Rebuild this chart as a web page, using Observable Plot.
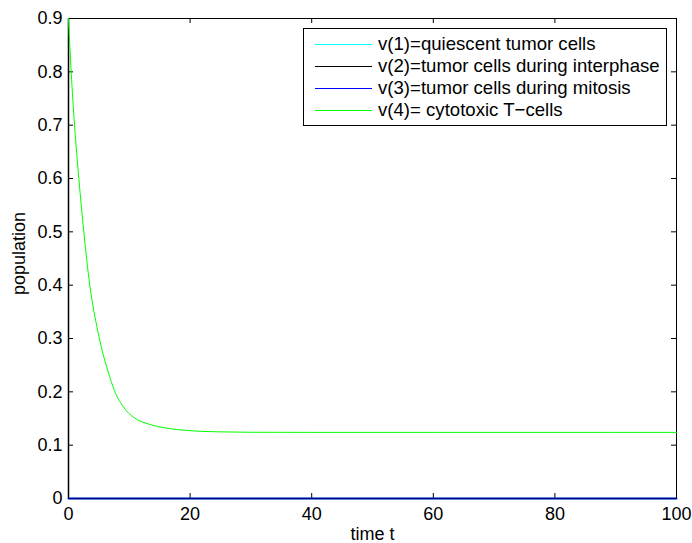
<!DOCTYPE html>
<html><head><meta charset="utf-8">
<script src="https://cdn.jsdelivr.net/npm/d3@7"></script>
<script src="https://cdn.jsdelivr.net/npm/@observablehq/plot@0.6"></script>
<style>
body{margin:0;background:#fff;}
#wrap{position:relative;width:692px;height:543px;font-family:"Liberation Sans",Arial,sans-serif;color:#000;}
#legend{position:absolute;left:303px;top:28px;width:362px;height:96px;border:1px solid #000;background:#fff;}
.row{position:absolute;left:0;height:22px;display:flex;align-items:center;font-size:18.6px;white-space:nowrap;}
.swatch{width:57px;height:0;border-top:1px solid;margin-left:11px;margin-right:6px;}
</style></head><body><div id="wrap"></div>
<script>
// time points and series values
const tZero = [0, 100];
const v1 = [0, 0];
const v2 = [0, 0];
const v3 = [0, 0];
const t4 = [0, 0.44, 0.99, 1.7, 2.52, 3.5, 4.88, 5.54, 6.47, 7.57, 9.1, 10.75, 13.2, 16.5, 19, 22, 24.7, 30, 40, 60, 80, 100];
const v4 = [0.9, 0.8, 0.7, 0.6, 0.5, 0.4, 0.311, 0.277, 0.2395, 0.202, 0.1706, 0.152, 0.1395, 0.1313, 0.128, 0.1258, 0.125, 0.1242, 0.124, 0.124, 0.124, 0.124];

const seriesNames = ["v(1)=quiescent tumor cells", "v(2)=tumor cells during interphase", "v(3)=tumor cells during mitosis", "v(4)= cytotoxic T\u2212cells"];
const seriesColors = ["#00ffff", "#000000", "#0000ff", "#00ff00"];

const xTicks = [0, 20, 40, 60, 80, 100];
const yTicks = [0, 0.1, 0.2, 0.3, 0.4, 0.5, 0.6, 0.7, 0.8, 0.9];
const yTickLabels = ["0", "0.1", "0.2", "0.3", "0.4", "0.5", "0.6", "0.7", "0.8", "0.9"];
const xDomain = [0, 100];
const yDomain = [0, 0.9];

const W = 692, H = 543, mL = 68, mR = 16, mT = 18, mB = 45;
const innerW = W - mL - mR, innerH = H - mT - mB;

const series = [
  {t: tZero, v: v1},
  {t: tZero, v: v2},
  {t: tZero, v: v3},
  {t: t4, v: v4}
].map((s, i) => ({name: seriesNames[i], color: seriesColors[i], data: s.t.map((x, j) => ({t: x, v: s.v[j]}))}));

const tick = 5;
const lineStyle = [
  {strokeWidth: 1.5},
  {strokeWidth: 1.5},
  {strokeWidth: 2, strokeOpacity: 0.6},
  {strokeWidth: 1}
];
const chart = Plot.plot({
  width: W, height: H,
  marginLeft: mL, marginRight: mR, marginTop: mT, marginBottom: mB,
  style: {fontFamily: "'Liberation Sans', Arial, sans-serif", fontSize: "18px", background: "white", color: "black", overflow: "visible"},
  x: {domain: xDomain, ticks: xTicks, tickSize: 0, tickPadding: 9, label: null},
  y: {domain: yDomain, ticks: yTicks, tickSize: 0, tickPadding: 6, label: null, tickFormat: (d) => yTickLabels[yTicks.indexOf(d)] ?? d},
  marks: [
    Plot.ruleX(xTicks, {x: d => d, insetTop: innerH - tick, stroke: "black"}),
    Plot.ruleX(xTicks, {x: d => d, insetBottom: innerH - tick, stroke: "black"}),
    Plot.ruleY(yTicks, {y: d => d, insetRight: innerW - tick, stroke: "black"}),
    Plot.ruleY(yTicks, {y: d => d, insetLeft: innerW - tick, stroke: "black"}),
    Plot.frame({stroke: "black", strokeWidth: 1}),
    Plot.ruleX([xDomain[0]], {x: d => d, stroke: "black", strokeWidth: 1.5}),
    ...series.map((s, i) => Plot.line(s.data, {x: "t", y: "v", stroke: s.color, ...lineStyle[i], curve: "monotone-x"})),
    Plot.text(["time t"], {frameAnchor: "bottom", lineAnchor: "middle", textAnchor: "middle", dy: 36, fontSize: 18}),
    Plot.text(["population"], {frameAnchor: "left", lineAnchor: "middle", textAnchor: "middle", dx: -49, dy: -5, rotate: -90, fontSize: 18})
  ]
});
const wrap = document.getElementById("wrap");
wrap.appendChild(chart);

const legend = document.createElement("div");
legend.id = "legend";
series.forEach((s, i) => {
  const row = document.createElement("div");
  row.className = "row";
  row.style.top = (4 + i * 22) + "px";
  const sw = document.createElement("div");
  sw.className = "swatch";
  sw.style.borderTopColor = s.color;
  const tx = document.createElement("span");
  tx.textContent = s.name;
  row.appendChild(sw); row.appendChild(tx);
  legend.appendChild(row);
});
wrap.appendChild(legend);
</script></body></html>
